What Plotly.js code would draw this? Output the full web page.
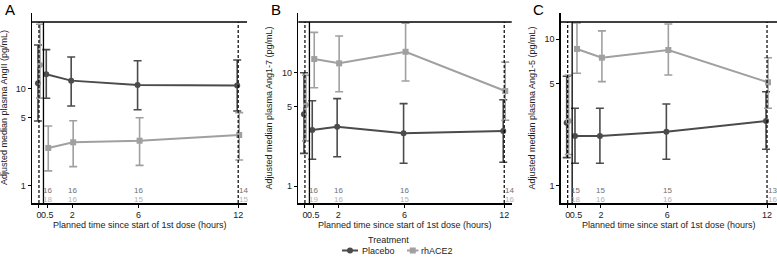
<!DOCTYPE html>
<html>
<head>
<meta charset="utf-8">
<script src="https://cdn.plot.ly/plotly-3.0.1.min.js"></script>
<style>html,body{margin:0;padding:0;background:#fff;}#chart{width:777px;height:257px;}</style>
</head>
<body>
<div id="chart"></div>
<script>
// ---- data ----
const times = [0, 0.5, 2, 6, 12];
const tickVals = [0, 0.5, 2, 6, 12];
const tickText = ['0', '0.5', '2', '6', '12'];
const countTimes = [0.5, 2, 6, 12];

const panelLetters = ['A', 'B', 'C'];
const yTitles = ['Adjusted median plasma AngII (pg/mL)', 'Adjusted median plasma Ang1-7 (pg/mL)', 'Adjusted median plasma Ang1-5 (pg/mL)'];
const xTitle = 'Planned time since start of 1st dose (hours)';
const legendTitle = 'Treatment';
const seriesNames = ['Placebo', 'rhACE2'];

// Panel A (AngII)
const aPlaceboMed = [11.4, 14.1, 12.1, 10.9, 10.8];
const aPlaceboLo  = [4.66, 7.97, 6.64, 6.08, 5.9];
const aPlaceboHi  = [28.1, 25.2, 21.2, 19.4, 19.7];
const aRhMed = [17.5, 2.46, 2.81, 2.92, 3.34];
const aRhLo  = [8.0, 1.43, 1.58, 1.63, 1.85];
const aRhHi  = [46, 4.14, 4.69, 5.03, 5.67];
const aPlaceboN = [16, 16, 16, 14];
const aRhN = [18, 16, 15, 15];

// Panel B (Ang1-7)
const bPlaceboMed = [4.3, 3.12, 3.34, 2.92, 3.06];
const bPlaceboLo  = [1.94, 1.72, 1.81, 1.59, 1.62];
const bPlaceboHi  = [10.0, 5.66, 5.9, 5.33, 5.78];
const bRhMed = [5.19, 13.2, 12.1, 15.3, 6.9];
const bRhLo  = [2.5, 7.37, 6.8, 8.45, 3.8];
const bRhHi  = [9.5, 22.7, 21.1, 27.3, 12.4];
const bPlaceboN = [16, 16, 16, 14];
const bRhN = [19, 16, 15, 16];

// Panel C (Ang1-5)
const cPlaceboMed = [2.7, 2.19, 2.19, 2.34, 2.77];
const cPlaceboLo  = [1.56, 1.43, 1.43, 1.52, 1.78];
const cPlaceboHi  = [5.6, 3.39, 3.39, 3.62, 4.39];
const cRhMed = [2.77, 8.59, 7.49, 8.45, 5.09];
const cRhLo  = [1.64, 5.86, 5.14, 5.71, 3.39];
const cRhHi  = [5.71, 12.9, 11.4, 12.7, 7.49];
const cPlaceboN = [15, 15, 15, 13];
const cRhN = [18, 16, 16, 16];

// ---- styling ----
const colPlacebo = '#4b4b4b';
const colRh = '#a0a0a0';
const colPlaceboTxt = '#707070';
const colRhTxt = '#b4b4b4';
const FONT = 'Liberation Sans, Arial, sans-serif';
const W = 777, PLOT_TOP = 13, PLOT_BOT = 203;
const px2y = yp => (PLOT_BOT - yp) / (PLOT_BOT - PLOT_TOP);

const panels = [
  {p: [aPlaceboMed, aPlaceboLo, aPlaceboHi], r: [aRhMed, aRhLo, aRhHi], pn: aPlaceboN, rn: aRhN,
   dom: [32/W, 247/W], xr: [-0.42, 12.53], yr: [-0.175, 1.778]},
  {p: [bPlaceboMed, bPlaceboLo, bPlaceboHi], r: [bRhMed, bRhLo, bRhHi], pn: bPlaceboN, rn: bRhN,
   dom: [298.3/W, 511.7/W], xr: [-0.40, 12.45], yr: [-0.15, 1.527]},
  {p: [cPlaceboMed, cPlaceboLo, cPlaceboHi], r: [cRhMed, cRhLo, cRhHi], pn: cPlaceboN, rn: cRhN,
   dom: [560.7/W, 1.0], xr: [-0.42, 12.6], yr: [-0.116, 1.179]}
];

const traces = [];
const shapes = [];
const annotations = [];
const layout = {
  width: W, height: 257,
  margin: {l: 0, r: 0, t: PLOT_TOP, b: 257 - PLOT_BOT, pad: 0},
  paper_bgcolor: '#fff', plot_bgcolor: '#fff',
  font: {family: FONT, size: 9, color: '#222'},
  showlegend: false
};

const topFrac = px2y(22);

panels.forEach((pan, i) => {
  const sfx = i === 0 ? '' : String(i + 1);
  const xa = 'x' + sfx, ya = 'y' + sfx;
  const groups = [
    {d: pan.p, name: seriesNames[0], color: colPlacebo, sym: 'circle', dx: -0.06},
    {d: pan.r, name: seriesNames[1], color: colRh, sym: 'square', dx: 0.06}
  ];
  groups.forEach((g) => {
    const [med, lo, hi] = g.d;
    const xs = times.map(t => t + g.dx);
    const plus = med.map((m, k) => hi[k] - m);
    const minus = med.map((m, k) => m - lo[k]);
    // baseline point at t = 0 (not joined to the line)
    traces.push({
      x: [xs[0]], y: [med[0]], xaxis: xa, yaxis: ya, type: 'scatter', mode: 'markers',
      marker: {color: g.color, size: 6, symbol: 'circle'},
      error_y: {type: 'data', symmetric: false, array: [plus[0]], arrayminus: [minus[0]], color: g.color, thickness: 1.6, width: 4},
      hoverinfo: 'skip', cliponaxis: false
    });
    traces.push({
      x: xs.slice(1), y: med.slice(1), xaxis: xa, yaxis: ya, type: 'scatter', mode: 'lines+markers',
      name: g.name,
      line: {color: g.color, width: 2},
      marker: {color: g.color, size: 6, symbol: g.sym},
      error_y: {type: 'data', symmetric: false, array: plus.slice(1), arrayminus: minus.slice(1), color: g.color, thickness: 1.6, width: 4},
      cliponaxis: false
    });
  });

  layout['xaxis' + sfx] = {
    domain: pan.dom, range: pan.xr, anchor: ya, type: 'linear',
    tickvals: tickVals, ticktext: tickText, tickangle: 0, ticks: 'outside', ticklen: 3, tickwidth: 1, tickcolor: '#000',
    showline: true, linecolor: '#000', linewidth: 1.5, showgrid: false, zeroline: false,
    tickfont: {family: FONT, size: 9, color: '#222'}, fixedrange: true
  };
  layout['yaxis' + sfx] = {
    domain: [0, 1], range: pan.yr, anchor: xa, type: 'log',
    tickvals: [1, 5, 10], ticktext: ['1', '5', '10'], ticks: 'outside', ticklen: 3, tickwidth: 1, tickcolor: '#000',
    showline: true, linecolor: '#000', linewidth: 1.5, showgrid: false, zeroline: false,
    tickfont: {family: FONT, size: 9, color: '#222'}, fixedrange: true
  };

  // top horizontal line
  shapes.push({type: 'line', xref: xa + ' domain', yref: ya + ' domain', x0: 0, x1: 1, y0: topFrac, y1: topFrac,
    line: {color: '#000', width: 1.3}});
  // dose lines (dashed) and end-of-infusion line (solid)
  [0, 12].forEach(t => shapes.push({type: 'line', xref: xa, yref: ya + ' domain', x0: t, x1: t, y0: 0, y1: topFrac,
    line: {color: '#000', width: 1.2, dash: '3px,2px'}}));
  shapes.push({type: 'line', xref: xa, yref: ya + ' domain', x0: 0.27, x1: 0.27, y0: 0, y1: topFrac,
    line: {color: '#000', width: 1.3}});

  // counts
  countTimes.forEach((t, k) => {
    const last = k === countTimes.length - 1;
    annotations.push({xref: xa, yref: ya + ' domain', x: t, y: px2y(190.2), text: String(pan.pn[k]), showarrow: false,
      xanchor: last ? 'left' : 'center', yanchor: 'middle', xshift: last ? -1 : 0,
      font: {family: FONT, size: 8, color: colPlaceboTxt}});
    annotations.push({xref: xa, yref: ya + ' domain', x: t, y: px2y(199.3), text: String(pan.rn[k]), showarrow: false,
      xanchor: last ? 'left' : 'center', yanchor: 'middle', xshift: last ? -1 : 0,
      font: {family: FONT, size: 8, color: colRhTxt}});
  });

  // x title
  annotations.push({xref: xa + ' domain', yref: 'paper', x: 0.5, y: px2y(224.5), text: xTitle, showarrow: false,
    xanchor: 'center', yanchor: 'middle', font: {family: FONT, size: 9, color: '#222'}});
});

// y titles and panel letters
const yTitleX = [4, 268.5, 531.5];
const letterX = [3, 269, 531];
yTitles.forEach((t, i) => {
  annotations.push({xref: 'paper', yref: 'paper', x: yTitleX[i] / W, y: 0.5, text: t, textangle: -90, showarrow: false,
    xanchor: 'center', yanchor: 'middle', font: {family: FONT, size: 9, color: '#222'}});
  annotations.push({xref: 'paper', yref: 'paper', x: letterX[i] / W, y: px2y(10), text: panelLetters[i], showarrow: false,
    xanchor: 'left', yanchor: 'middle', font: {family: FONT, size: 15, color: '#000'}});
});

// legend (drawn manually, positioned as in the reference)
annotations.push({xref: 'paper', yref: 'paper', x: 388 / W, y: px2y(240), text: legendTitle, showarrow: false,
  xanchor: 'center', yanchor: 'middle', font: {family: FONT, size: 9, color: '#222'}});
const legY = px2y(250.5);
const legItems = [
  {name: seriesNames[0], color: colPlacebo, x0: 342, x1: 358, tx: 360, sym: 'circle'},
  {name: seriesNames[1], color: colRh, x0: 407, x1: 418.5, tx: 419.5, sym: 'square'}
];
legItems.forEach(it => {
  shapes.push({type: 'line', xref: 'paper', yref: 'paper', x0: it.x0 / W, x1: it.x1 / W, y0: legY, y1: legY,
    line: {color: it.color, width: 2}});
  const cx = (it.x0 + it.x1) / 2;
  shapes.push({type: it.sym === 'circle' ? 'circle' : 'rect', xref: 'paper', yref: 'paper',
    x0: (cx - 3) / W, x1: (cx + 3) / W, y0: px2y(253.5), y1: px2y(247.5),
    line: {width: 0}, fillcolor: it.color});
  annotations.push({xref: 'paper', yref: 'paper', x: it.tx / W, y: legY, text: it.name, showarrow: false,
    xanchor: 'left', yanchor: 'middle', font: {family: FONT, size: 9, color: '#222'}});
});

layout.shapes = shapes;
layout.annotations = annotations;

Plotly.newPlot('chart', traces, layout, {staticPlot: true, displayModeBar: false});
</script>
</body>
</html>
